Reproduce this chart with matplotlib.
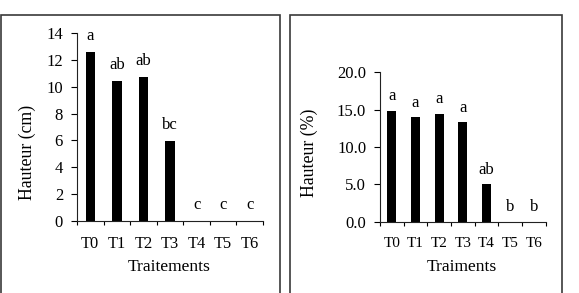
import matplotlib
matplotlib.use("Agg")
import matplotlib.pyplot as plt
from matplotlib.patches import Rectangle

plt.rcParams['font.family'] = ['Liberation Serif', 'DejaVu Serif']

treatments = ['T0', 'T1', 'T2', 'T3', 'T4', 'T5', 'T6']
height_cm = [12.56, 10.45, 10.72, 5.93, 0, 0, 0]
letters_cm = ['a', 'ab', 'ab', 'bc', 'c', 'c', 'c']
height_pct = [14.86, 13.97, 14.46, 13.35, 5.05, 0, 0]
letters_pct = ['a', 'a', 'a', 'a', 'ab', 'b', 'b']

W, H = 579, 293
fig = plt.figure(figsize=(W / 100, H / 100), dpi=100)


def px_axes(x0, y_top, x1, y_bot):
    return fig.add_axes([x0 / W, 1 - y_bot / H, (x1 - x0) / W, (y_bot - y_top) / H])


def draw_panel(ax, values, letters, ymax, ystep, fmt, bar_w, offset, tick_fs, ytick_fs):
    x = list(range(len(treatments)))
    ax.bar(x, values, width=bar_w, color='black')
    for xi, v, lab in zip(x, values, letters):
        ax.annotate(lab, (xi, v), xytext=(0, offset), textcoords='offset points',
                    ha='center', va='baseline', fontsize=12)
    ax.set_xlim(-0.5, len(x) - 0.5)
    ax.set_ylim(0, ymax)
    ax.set_yticks([i * ystep for i in range(int(round(ymax / ystep)) + 1)])
    ax.yaxis.set_major_formatter(plt.FuncFormatter(lambda v, p: fmt.format(v)))
    ax.set_xticks([i - 0.5 for i in range(len(x) + 1)])
    ax.set_xticklabels([])
    ax.set_xticks(x, minor=True)
    ax.set_xticklabels(treatments, minor=True, fontsize=tick_fs)
    ax.tick_params(axis='x', which='major', direction='out', length=3, width=0.8)
    ax.tick_params(axis='x', which='minor', length=0, pad=11)
    ax.tick_params(axis='y', direction='out', length=4, width=0.8, pad=6, labelsize=ytick_fs)
    for s in ('top', 'right'):
        ax.spines[s].set_visible(False)
    for s in ('left', 'bottom'):
        ax.spines[s].set_linewidth(0.8)
        ax.spines[s].set_color('#222222')


# frames around each panel
fig.patches.append(Rectangle((1 / W, -0.1), 279 / W, 1.1 - 14.5 / H, transform=fig.transFigure,
                             fill=False, edgecolor='#3a3a3a', linewidth=1.2))
fig.patches.append(Rectangle((289.5 / W, -0.1), 272.5 / W, 1.1 - 14.5 / H, transform=fig.transFigure,
                             fill=False, edgecolor='#3a3a3a', linewidth=1.2))

ax1 = px_axes(77, 33, 263, 221)
draw_panel(ax1, height_cm, letters_cm, 14, 2, '{:.0f}', 0.36, 8.6, 11.8, 12)
fig.text(27 / W, 1 - 152 / H, 'Hauteur (cm)', rotation=90, ha='center', va='center', fontsize=12.8)
fig.text(169 / W, 1 - 267 / H, 'Traitements', ha='center', va='center', fontsize=12.6)

ax2 = px_axes(380, 72.3, 545.7, 221.7)
draw_panel(ax2, height_pct, letters_pct, 20, 5, '{:.1f}', 0.38, 7.5, 11, 12)
fig.text(309 / W, 1 - 153 / H, 'Hauteur (%)', rotation=90, ha='center', va='center', fontsize=12.8)
fig.text(462 / W, 1 - 267 / H, 'Traiments', ha='center', va='center', fontsize=12.6)

fig.savefig('out.png', dpi=100)
